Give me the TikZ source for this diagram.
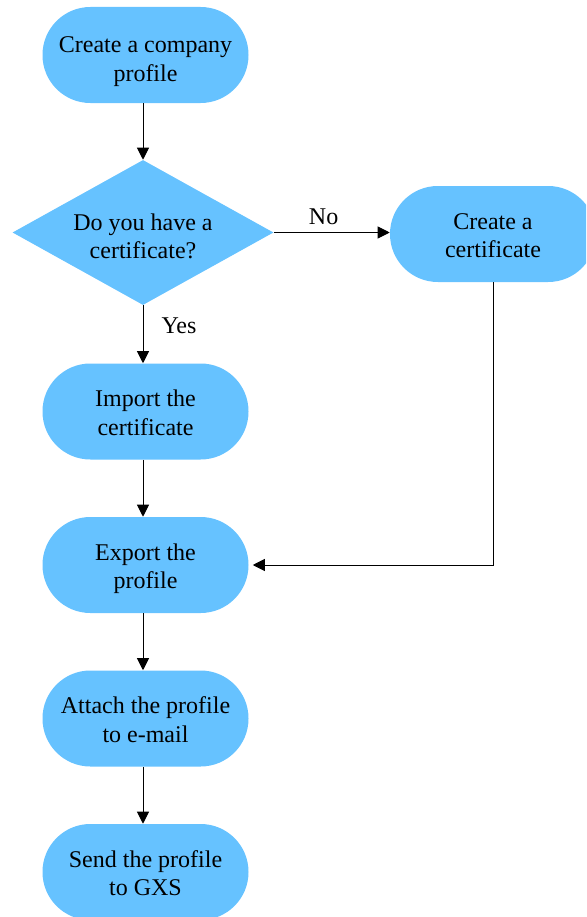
\documentclass[tikz,border=0pt]{standalone}
\usepackage{fontspec}
\setmainfont{Liberation Serif}
\usetikzlibrary{shapes.geometric,arrows.meta}

\begin{document}
\begin{tikzpicture}[x=0.75pt,y=-0.75pt,
  stepbox/.style={fill=skyblue,rounded corners=35.9pt,minimum width=154.5pt,minimum height=72pt,align=center,inner sep=0pt,
    text height=35.6pt,text depth=0pt},
  question/.style={diamond,fill=skyblue,aspect=1.8,minimum width=195.75pt,minimum height=108.75pt,align=center,inner sep=0pt,
    text height=39.4pt,text depth=0pt},
  flow/.style={line width=0.75pt,-{Triangle[length=9pt,width=9pt]}},
  every node/.style={font=\fontsize{18}{21.5}\selectfont}]
\definecolor{skyblue}{HTML}{66C2FF}
\useasboundingbox (0,0) rectangle (586,917);
\clip (0,0) rectangle (586,917);
\node [stepbox,text height=39pt] (profile) at (145.5,55) {Create a company\\profile};
\node [question] (cert) at (143,232.5) {Do you have a\\certificate?};
\node [stepbox] (newcert) at (493,234) {Create a\\certificate};
\node [stepbox] (import) at (145.5,411.5) {Import the\\certificate};
\node [stepbox] (export) at (145.5,565) {Export the\\profile};
\node [stepbox] (attach) at (145.5,718.5) {Attach the profile\\to e-mail};
\node [stepbox] (send) at (145.5,872) {Send the profile\\to GXS};
  \foreach \from/\to in {profile/cert,cert/import,import/export,export/attach,attach/send}
  {  \draw [flow] (\from.south -| cert.north) -- (\to.north -| cert.north);}
\draw [flow] (cert.east) -- node [above=2pt,pos=0.43] {No} (cert.east -| newcert.west);
\node (yes) at (179,326) {Yes};
\draw [flow,shorten >=3pt] (newcert.south) |- (export.east);
\end{tikzpicture}
\end{document}
